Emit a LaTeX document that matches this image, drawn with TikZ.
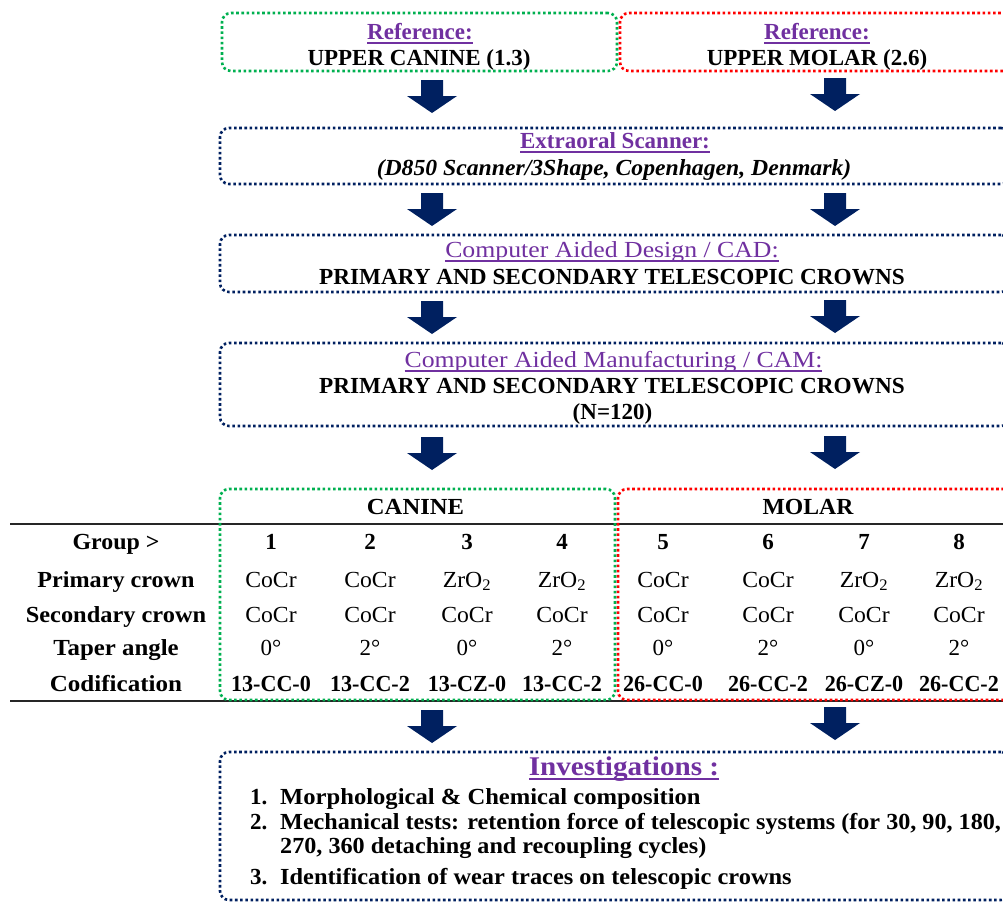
\documentclass[tikz,border=0pt]{standalone}
\usepackage{fontspec}
\setmainfont{Liberation Serif}
\definecolor{navy}{HTML}{002060}
\definecolor{purp}{HTML}{7030A0}
\definecolor{grn}{HTML}{00B050}
\definecolor{rd}{HTML}{FF0000}
\newcommand{\fB}{\fontsize{23}{27}\selectfont\bfseries}
\newcommand{\fR}{\fontsize{23}{27}\selectfont\mdseries}
\newcommand{\sx}[2]{\scalebox{#1}[1]{#2}}
\newcommand{\ttl}[1]{\textcolor{purp}{\setbox0\hbox{#1}\rlap{\rule[-4.5pt]{\wd0}{1.6pt}}\box0}}
\begin{document}
\begin{tikzpicture}[x=1pt,y=-1pt,
  box/.style={line width=2.6pt, dash pattern=on 2.6pt off 2.6pt, rounded corners=9pt, inner sep=0pt, rectangle},
  txt/.style={anchor=base, inner sep=0pt, font=\fB},
  rtxt/.style={anchor=base, inner sep=0pt, font=\fR},
  ltxt/.style={anchor=base west, inner sep=0pt, font=\fB},
  darrow/.pic={\fill[navy] (-11,0) -- (11,0) -- (11,16) -- (25,16) -- (0,33) -- (-25,16) -- (-11,16) -- cycle;}
]
\useasboundingbox (0,0) rectangle (1003,902);
\clip (0,0) rectangle (1003,902);

% top reference boxes
\node[box, draw=grn, minimum width=395pt, minimum height=58pt] (refc) at (419.5,42) {};
\node[box, draw=rd, minimum width=395pt, minimum height=58pt] (refm) at (817.5,42) {};
\node[txt] (refct) at (420,39) {\ttl{Reference:}};
\node[txt] (refcn) at (419,65) {UPPER CANINE (1.3)};
\node[txt] (refmt) at (817,39) {\ttl{Reference:}};
\node[txt] (refmn) at (817,65) {UPPER MOLAR (2.6)};

% scanner
\node[box, draw=navy, minimum width=790pt, minimum height=56pt] (scan) at (615,156) {};
\node[txt] (scant) at (615,148) {\ttl{Extraoral Scanner:}};
\node[txt] (scans) at (614,175) {\sx{1.03}{\itshape (D850 Scanner/3Shape, Copenhagen, Denmark)}};

% CAD
\node[box, draw=navy, minimum width=790pt, minimum height=57pt] (cad) at (615,263.5) {};
\node[rtxt] (cadt) at (612,257) {\sx{1.12}{\ttl{Computer Aided Design / CAD:}}};
\node[txt] (cads) at (612,284) {\sx{1.01}{PRIMARY AND SECONDARY TELESCOPIC CROWNS}};

% CAM
\node[box, draw=navy, minimum width=790pt, minimum height=83pt] (cam) at (615,384.5) {};
\node[rtxt] (camt) at (613.5,367) {\sx{1.12}{\ttl{Computer Aided Manufacturing / CAM:}}};
\node[txt] (cams) at (612,393) {\sx{1.01}{PRIMARY AND SECONDARY TELESCOPIC CROWNS}};
\node[txt] (camn) at (612.5,419) {(N=120)};

% arrows
\pic at (432,80) {darrow};
\pic at (835,78) {darrow};
\pic at (432,193) {darrow};
\pic at (835,193) {darrow};
\pic at (432,301) {darrow};
\pic at (835,300) {darrow};
\pic at (432,437) {darrow};
\pic at (835,436) {darrow};
\pic at (432,710) {darrow};
\pic at (835,707) {darrow};

% table
\draw[line width=1.1pt, black!85] (10,524) coordinate (hl1) -- (1003,524) coordinate (hr1);
\draw[line width=1.1pt, black!85] (10,701) coordinate (hl2) -- (1003,701) coordinate (hr2);
\node[box, draw=rd, minimum width=395pt, minimum height=211pt] (molbox) at (815.5,594.5) {};
\node[box, draw=grn, minimum width=395pt, minimum height=211pt] (canbox) at (417.5,594.5) {};
\node[txt] (canh) at (415.5,514) {\sx{1.07}{CANINE}};
\node[txt] (molh) at (808,514) {\sx{1.03}{MOLAR}};

\node[txt] (lg) at (116,549) {\sx{1.04}{Group >}};
\node[txt] (lp) at (116,587) {\sx{1.05}{Primary crown}};
\node[txt] (ls) at (116,622) {\sx{1.06}{Secondary crown}};
\node[txt] (lt) at (116,655) {\sx{1.08}{Taper angle}};
\node[txt] (lc) at (116,691) {\sx{1.09}{Codification}};

\foreach \x/\n/\p/\a/\c [count=\i] in {
  271/1/CoCr/0/13-CC-0, 370/2/CoCr/2/13-CC-2, 467/3/ZrO\textsubscript{2}/0/13-CZ-0, 562/4/ZrO\textsubscript{2}/2/13-CC-2,
  663/5/CoCr/0/26-CC-0, 768/6/CoCr/2/26-CC-2, 864/7/ZrO\textsubscript{2}/0/26-CZ-0, 959/8/ZrO\textsubscript{2}/2/26-CC-2}{
  \node[txt] (g\i) at (\x,549) {\n};
  \node[rtxt] (p\i) at (\x,587) {\sx{1.03}{\p}};
  \node[rtxt] (s\i) at (\x,622) {\sx{1.03}{CoCr}};
  \node[rtxt] (a\i) at (\x,655) {\a°};
  \node[txt] (c\i) at (\x,691) {\sx{0.96}{\c}};
}

% investigations
\node[box, draw=navy, minimum width=790pt, minimum height=148pt] (inv) at (615,826) {};
\node[txt, font=\fontsize{27}{30}\selectfont\bfseries] (invt) at (624,775) {\sx{1.08}{\ttl{Investigations :}}};
\node[ltxt] (i1n) at (250,804) {1.};
\node[ltxt] (i1) at (280,804) {\sx{1.07}{Morphological \& Chemical composition}};
\node[ltxt] (i2n) at (250,829) {2.};
\node[ltxt] (i2) at (280,829) {\sx{1.05}{Mechanical tests: retention force of telescopic systems (for 30, 90, 180,}};
\node[ltxt] (i2b) at (280,853) {\sx{1.05}{270, 360 detaching and recoupling cycles)}};
\node[ltxt] (i3n) at (250,884) {3.};
\node[ltxt] (i3) at (280,884) {\sx{1.06}{Identification of wear traces on telescopic crowns}};
\end{tikzpicture}
\end{document}
